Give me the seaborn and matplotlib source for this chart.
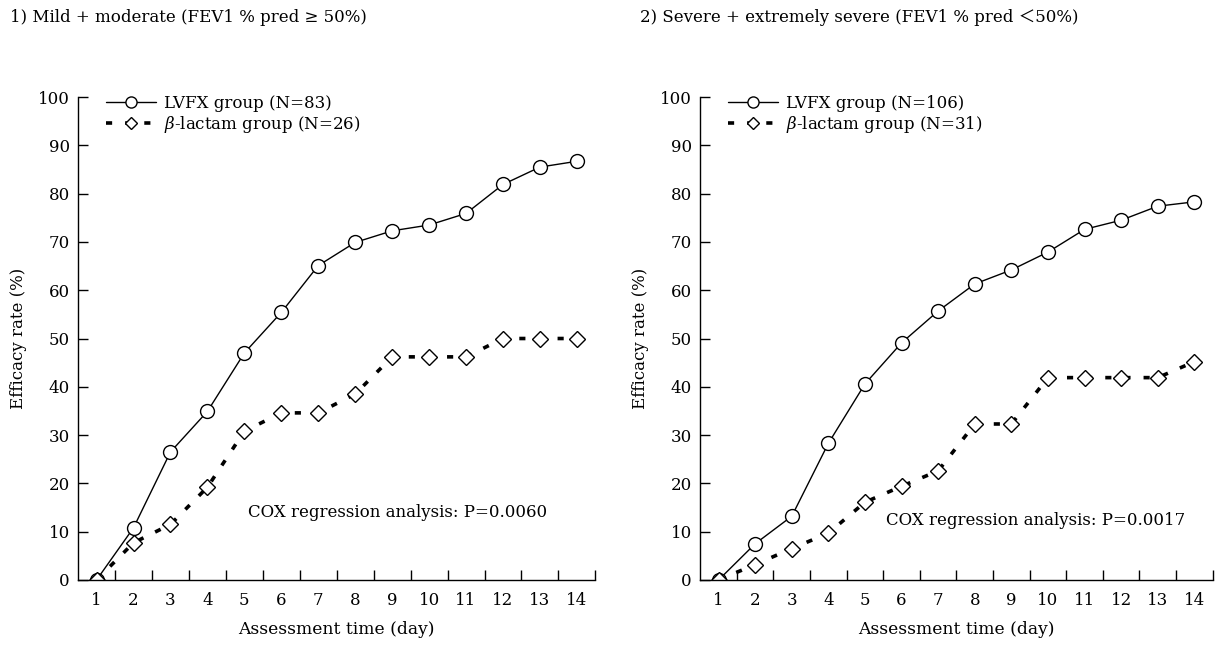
import pandas as pd
import matplotlib
matplotlib.use("Agg")
import matplotlib.pyplot as plt
import seaborn as sns

# Data (percent responders per day)
days = list(range(1, 15))

mild_lvfx = [0, 10.8, 26.5, 34.9, 47.0, 55.4, 65.1, 69.9, 72.3, 73.5, 75.9, 81.9, 85.5, 86.7]
mild_beta = [0, 7.7, 11.5, 19.2, 30.8, 34.6, 34.6, 38.5, 46.2, 46.2, 46.2, 50.0, 50.0, 50.0]

severe_lvfx = [0, 7.5, 13.2, 28.3, 40.6, 49.1, 55.7, 61.3, 64.2, 67.9, 72.6, 74.5, 77.4, 78.3]
severe_beta = [0, 3.2, 6.5, 9.7, 16.1, 19.4, 22.6, 32.3, 32.3, 41.9, 41.9, 41.9, 41.9, 45.2]

titles = ["1) Mild + moderate (FEV1 % pred \u2265 50%)",
          "2) Severe + extremely severe (FEV1 % pred \uff1c50%)"]
lvfx_labels = ["LVFX group (N=83)", "LVFX group (N=106)"]
beta_labels = [r"$\beta$-lactam group (N=26)", r"$\beta$-lactam group (N=31)"]
cox_texts = ["COX regression analysis: P=0.0060", "COX regression analysis: P=0.0017"]
cox_pos = [(5.1, 14.0), (5.57, 12.4)]

sns.set_theme(style="ticks")
plt.rcParams["font.family"] = ["DejaVu Serif", "Noto Sans CJK JP"]
plt.rcParams["mathtext.fontset"] = "dejavuserif"
plt.rcParams["axes.linewidth"] = 1.0
plt.rcParams["text.color"] = "black"
plt.rcParams["axes.labelcolor"] = "black"
plt.rcParams["axes.edgecolor"] = "black"
plt.rcParams["xtick.color"] = "black"
plt.rcParams["ytick.color"] = "black"

fs = 12

fig = plt.figure(figsize=(12.2, 6.47), dpi=100)
ax1 = fig.add_axes([0.064, 0.1036, 0.424, 0.7464])
ax2 = fig.add_axes([0.574, 0.1036, 0.42, 0.7464])

panels = [(ax1, mild_lvfx, mild_beta), (ax2, severe_lvfx, severe_beta)]

for i, (ax, lv, bl) in enumerate(panels):
    df = pd.DataFrame({"day": days, "lvfx": lv, "beta": bl})
    sns.lineplot(data=df, x="day", y="lvfx", ax=ax, color="black", linewidth=1.0,
                 marker="o", markersize=10, markerfacecolor="white",
                 markeredgecolor="black", markeredgewidth=1.0, label=lvfx_labels[i])
    sns.lineplot(data=df, x="day", y="beta", ax=ax, color="black", linewidth=2.6,
                 linestyle=(0, (1.7, 3.6)), marker="D", markersize=8,
                 markerfacecolor="white", markeredgecolor="black",
                 markeredgewidth=1.0, label=beta_labels[i])

    ax.set_xlim(0.5, 14.5)
    ax.set_ylim(0, 100)
    ax.set_xticks(days)
    ax.set_xticklabels([str(d) for d in days], fontsize=fs)
    ax.tick_params(axis="x", which="major", length=0, pad=9)
    ax.set_xticks([d + 0.5 for d in days], minor=True)
    ax.tick_params(axis="x", which="minor", direction="in", length=7.5, width=1.0)
    ax.set_yticks(range(0, 101, 10))
    ax.tick_params(axis="y", direction="in", length=7.5, width=1.0, labelsize=fs, pad=6)
    sns.despine(ax=ax)
    ax.set_xlabel("Assessment time (day)", fontsize=fs + 0.3, labelpad=8)
    ax.set_ylabel("Efficacy rate (%)", fontsize=fs, labelpad=8)
    ax.legend(loc="upper left", bbox_to_anchor=(0.035, 1.025), frameon=False,
              fontsize=fs, handlelength=3.0, handletextpad=0.45,
              labelspacing=0.12, borderaxespad=0.2, markerscale=0.8)
    ax.text(cox_pos[i][0], cox_pos[i][1], cox_texts[i], fontsize=fs,
            ha="left", va="center")

fig.text(10 / 1220, 1 - 18 / 647, titles[0], fontsize=fs, ha="left", va="center")
fig.text(640 / 1220, 1 - 18 / 647, titles[1], fontsize=fs, ha="left", va="center")

fig.savefig("out.png", dpi=100)
